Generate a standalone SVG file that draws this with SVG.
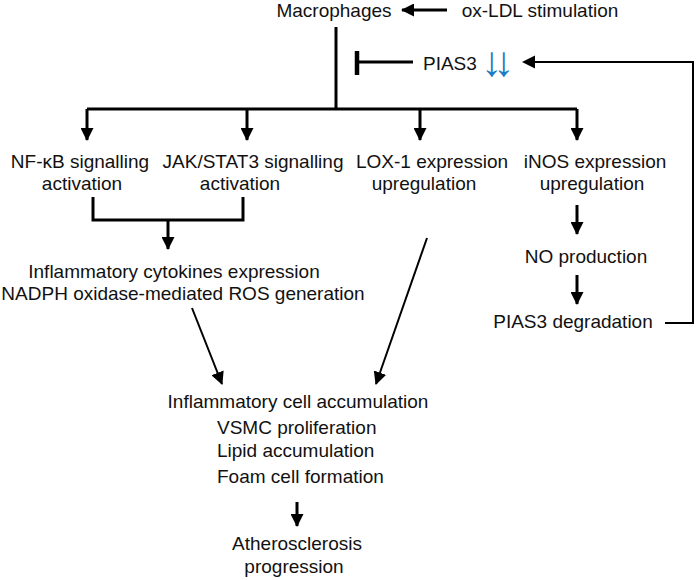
<svg xmlns="http://www.w3.org/2000/svg" width="697" height="580" viewBox="0 0 697 580">
<style>
text{font-family:"Liberation Sans",Arial,sans-serif;font-size:19px;fill:#111}
.c{text-anchor:middle}
.ln{stroke:#000;stroke-width:3;fill:none}
.thin{stroke:#000;stroke-width:2;fill:none}
</style>
<defs>
<marker id="ah" markerUnits="userSpaceOnUse" markerWidth="13" markerHeight="13" viewBox="0 0 13 13" refX="12" refY="6.5" orient="auto">
<path d="M0,0 L13,6.5 L0,13 z" fill="#000"/>
</marker>
</defs>
<rect width="697" height="580" fill="#fff"/>
<g id="connectors">
<line class="ln" x1="447" y1="10" x2="402" y2="10" marker-end="url(#ah)"/>
<line class="ln" x1="336" y1="27" x2="336" y2="109"/>
<line class="ln" x1="87" y1="109" x2="577" y2="109"/>
<line class="ln" x1="87" y1="109" x2="87" y2="140" marker-end="url(#ah)"/>
<line class="ln" x1="247" y1="109" x2="247" y2="140" marker-end="url(#ah)"/>
<line class="ln" x1="420" y1="109" x2="420" y2="140" marker-end="url(#ah)"/>
<line class="ln" x1="577" y1="109" x2="577" y2="140" marker-end="url(#ah)"/>
<line class="ln" x1="413" y1="62" x2="357" y2="62"/>
<line stroke="#000" stroke-width="4.5" x1="357" y1="51" x2="357" y2="75"/>
<polyline class="thin" points="665,323 693,323 693,62 524,62"/>
<path d="M522,62 L535,55.5 L535,68.5 z" fill="#000"/>
<polyline class="ln" points="93,197 93,220 243,220 243,197"/>
<line class="ln" x1="168" y1="220" x2="168" y2="249" marker-end="url(#ah)"/>
<line class="ln" x1="577" y1="205" x2="577" y2="234" marker-end="url(#ah)"/>
<line class="ln" x1="577" y1="275" x2="577" y2="304" marker-end="url(#ah)"/>
<line class="thin" x1="192" y1="308" x2="222" y2="384" marker-end="url(#ah)"/>
<line class="thin" x1="427" y1="238" x2="376" y2="384" marker-end="url(#ah)"/>
<line class="ln" x1="297" y1="502" x2="297" y2="526" marker-end="url(#ah)"/>
</g>
<g id="macrophages"><text x="334" y="17" class="c">Macrophages</text></g>
<g id="oxldl"><text x="540" y="17" class="c">ox-LDL stimulation</text></g>
<g id="pias3"><text x="423" y="70">PIAS3</text><text x="481" y="76" style="fill:#1b7cc4;font-size:42px;letter-spacing:-9px">↓↓</text></g>
<g id="nfkb"><text x="80" y="168" class="c">NF-κB signalling</text><text x="82" y="190" class="c">activation</text></g>
<g id="jakstat"><text x="253" y="168" class="c">JAK/STAT3 signalling</text><text x="240" y="190" class="c">activation</text></g>
<g id="lox1"><text x="432" y="168" class="c">LOX-1 expression</text><text x="424" y="190" class="c">upregulation</text></g>
<g id="inos"><text x="595" y="168" class="c">iNOS expression</text><text x="592" y="190" class="c">upregulation</text></g>
<g id="cytokines"><text x="174" y="278" class="c">Inflammatory cytokines expression</text><text x="183" y="300" class="c">NADPH oxidase-mediated ROS generation</text></g>
<g id="no"><text x="586" y="263" class="c">NO production</text></g>
<g id="pias3deg"><text x="573" y="328" class="c">PIAS3 degradation</text></g>
<g id="outcomes"><text x="298" y="408" class="c">Inflammatory cell accumulation</text><text x="217" y="434">VSMC proliferation</text><text x="217" y="457">Lipid accumulation</text><text x="217" y="483">Foam cell formation</text></g>
<g id="athero"><text x="297" y="550" class="c">Atherosclerosis</text><text x="294" y="573" class="c">progression</text></g>
</svg>
